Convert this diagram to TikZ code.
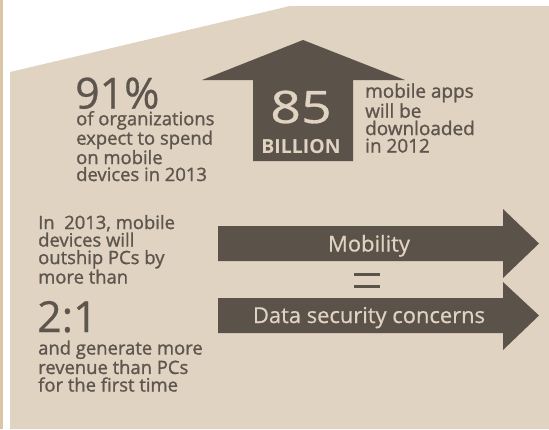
\documentclass[tikz,border=0pt]{standalone}
\usepackage{fontspec}
\setmainfont{Open Sans}
\newfontfamily\semib{Open Sans}[FakeBold=1.2]
\newfontfamily\medf{Open Sans}[FakeBold=0.6]
\definecolor{beige}{HTML}{E0D3C1}
\definecolor{strip}{HTML}{D8C6A5}
\definecolor{darkbrown}{HTML}{5B524A}
\definecolor{txtgray}{HTML}{5E564E}
\tikzset{
  body/.style={anchor=base west, inner sep=0pt, align=left, text=txtgray, font=\semib\fontsize{18.5}{17.6}\selectfont},
  big/.style={anchor=base west, inner sep=0pt, text=txtgray, font=\medf\fontsize{43}{43}\selectfont},
  darkshape/.style={fill=darkbrown, draw=none},
  intext/.style={anchor=base, inner sep=0pt, text=beige, font=\medf\fontsize{22}{22}\selectfont}
}
\begin{document}
\begin{tikzpicture}[x=1bp,y=-1bp]
\useasboundingbox (0,0) rectangle (549,429);
\fill[white] (0,0) rectangle (549,429);
\fill[strip] (0,0) rectangle (3,429);
\fill[beige] (10,72) -- (290,6) -- (549,6) -- (549,429) -- (10,429) -- cycle;
% up arrow
\fill[darkshape] (202,80) -- (303,40) -- (405,80) -- (353,80) -- (353,161) -- (253,161) -- (253,80) -- cycle;
\node[anchor=base, inner sep=0pt, text=beige, font=\medf\fontsize{45}{45}\selectfont, xscale=1.2] (num85) at (301,123) {85};
\node[anchor=base, inner sep=0pt, text=beige, font=\fontsize{19.5}{19.5}\selectfont\bfseries] (billion) at (301,153) {BILLION};
\node[body, font=\semib\fontsize{19}{17.5}\selectfont] (apps) at (365,152.5) {mobile apps\\will be\\downloaded\\in 2012};
% 91%
\node[big] (pct) at (75,108.5) {91\%};
\node[body, font=\semib\fontsize{18.5}{17}\selectfont] (orgs) at (76,181) {of organizations\\expect to spend\\on mobile\\devices in 2013};
% lower left
\node[body] (outship) at (38,283.5) {In\ \ 2013, mobile\\devices will\\outship PCs by\\more than};
\node[big] (ratio) at (37,332) {2:1};
\node[body] (revenue) at (38,391.5) {and generate more\\revenue than PCs\\for the first time};
% right arrows
\fill[darkshape] (218,226) -- (503,226) -- (503,209) -- (539,243.5) -- (503,278) -- (503,261) -- (218,261) -- cycle;
\fill[darkshape] (218,298) -- (503,298) -- (503,282) -- (539,315.5) -- (503,350) -- (503,333) -- (218,333) -- cycle;
\node[intext] (mob) at (369,251.5) {Mobility};
\node[intext] (sec) at (369,323) {Data security concerns};
\fill[darkshape] (354,272.5) rectangle (380,275.5);
\fill[darkshape] (354,284.5) rectangle (380,287.5);
\end{tikzpicture}
\end{document}
